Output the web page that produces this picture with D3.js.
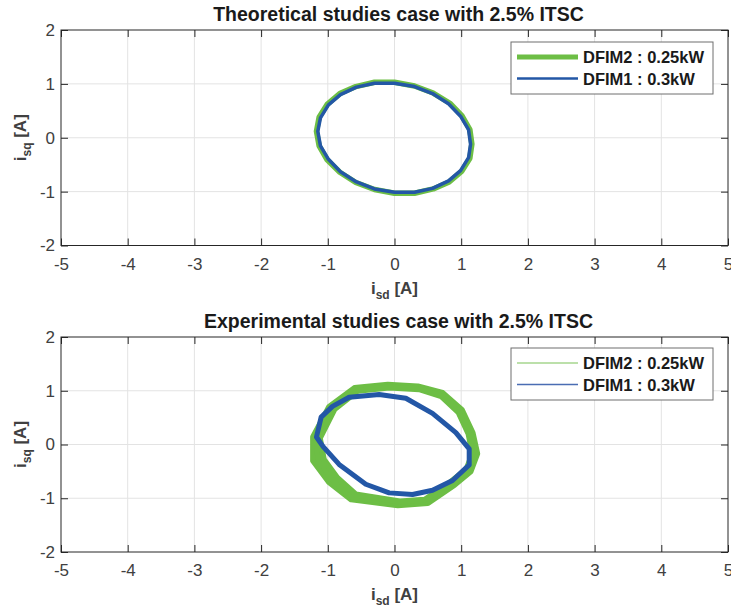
<!DOCTYPE html>
<html>
<head>
<meta charset="UTF-8">
<script src="https://d3js.org/d3.v7.min.js"></script>
<style>
  body { margin: 0; background: #fff; }
  svg { display: block; font-family: "Liberation Sans", Arial, sans-serif; }
  .tick line { stroke: #262626; }
  .tick text { fill: #404040; font-size: 17px; }
  .grid line { stroke: #e3e3e3; stroke-width: 1; }
  .frame { fill: none; stroke: #262626; stroke-width: 1; }
</style>
</head>
<body>
<svg width="731" height="613"></svg>
<script>
// axis ticks
const xTicks = [-5, -4, -3, -2, -1, 0, 1, 2, 3, 4, 5];
const yTicks = [-2, -1, 0, 1, 2];

// theoretical case : (isd, isq) points
const thGreen = [
  [1.16,-0.12],[1.13,0.15],[1.01,0.41],[0.83,0.64],[0.58,0.83],[0.30,0.96],
  [0.0,1.03],[-0.30,1.03],[-0.58,0.95],[-0.82,0.82],[-1.01,0.62],[-1.13,0.38],
  [-1.17,0.12],[-1.13,-0.15],[-1.01,-0.41],[-0.82,-0.64],[-0.58,-0.83],[-0.30,-0.96],
  [0.0,-1.03],[0.30,-1.03],[0.58,-0.95],[0.82,-0.82],[1.01,-0.62],[1.13,-0.38]
];
const thBlue = [
  [1.14,-0.12],[1.11,0.15],[0.99,0.40],[0.81,0.63],[0.57,0.82],[0.30,0.95],
  [0.0,1.01],[-0.30,1.01],[-0.57,0.94],[-0.81,0.80],[-0.99,0.61],[-1.11,0.37],
  [-1.15,0.12],[-1.11,-0.15],[-0.99,-0.40],[-0.81,-0.63],[-0.57,-0.82],[-0.30,-0.95],
  [0.0,-1.01],[0.30,-1.01],[0.57,-0.94],[0.81,-0.80],[0.99,-0.61],[1.11,-0.37]
];

// experimental case : three green cycles (outer / middle / inner of the band) and blue
const expGreenA = [
  [-0.10,1.11],[0.35,1.08],[0.72,0.96],[1.01,0.64],[1.17,0.22],[1.24,-0.17],
  [1.14,-0.50],[0.90,-0.75],[0.50,-1.09],[0.05,-1.13],[-0.65,-1.02],[-0.98,-0.70],
  [-1.22,-0.30],[-1.22,0.14],[-0.98,0.70],[-0.60,1.05]
];
const expGreenC = [
  [-0.09,1.09],[0.36,1.06],[0.71,0.93],[0.99,0.62],[1.14,0.21],[1.21,-0.17],
  [1.11,-0.48],[0.87,-0.73],[0.47,-1.06],[0.06,-1.10],[-0.62,-0.98],[-0.92,-0.66],
  [-1.14,-0.29],[-1.17,0.13],[-0.94,0.68],[-0.58,1.03]
];
const expGreenB = [
  [-0.08,1.06],[0.37,1.03],[0.70,0.90],[0.96,0.60],[1.11,0.20],[1.17,-0.17],
  [1.08,-0.46],[0.84,-0.70],[0.45,-1.03],[0.08,-1.06],[-0.58,-0.93],[-0.86,-0.62],
  [-1.06,-0.28],[-1.12,0.12],[-0.90,0.66],[-0.55,1.00]
];
const expBlue = [
  [-1.17,0.14],[-1.10,0.51],[-0.93,0.71],[-0.68,0.88],[-0.23,0.93],[0.17,0.86],
  [0.57,0.58],[0.92,0.22],[1.12,-0.08],[1.12,-0.38],[0.87,-0.67],[0.57,-0.85],
  [0.27,-0.93],[-0.08,-0.90],[-0.43,-0.74],[-0.83,-0.37],[-1.07,-0.04]
];

const legendNames = ["DFIM2 : 0.25kW", "DFIM1 : 0.3kW"];

const GREEN = "#6dbe45", BLUE = "#2357a6";

const svg = d3.select("svg");
const left = 61, right = 728;

const panels = [
  {
    top: 30, bottom: 245.5, title: "Theoretical studies case with 2.5% ITSC", id: "c1",
    series: [
      { data: thGreen, color: GREEN, width: 5.5 },
      { data: thBlue, color: BLUE, width: 3.5 }
    ],
    legend: [
      { color: GREEN, width: 5 },
      { color: BLUE, width: 2.5 }
    ],
    legendTop: 42
  },
  {
    top: 337, bottom: 552, title: "Experimental studies case with 2.5% ITSC", id: "c2",
    series: [
      { data: expGreenA, color: GREEN, width: 6 },
      { data: expGreenC, color: GREEN, width: 6 },
      { data: expGreenB, color: GREEN, width: 6 },
      { data: expBlue, color: BLUE, width: 5 }
    ],
    legend: [
      { color: "#a6d68e", width: 1.5 },
      { color: "#4a6db3", width: 1.5 }
    ],
    legendTop: 348
  }
];

panels.forEach(p => {
  const x = d3.scaleLinear().domain([-5, 5]).range([left, right]);
  const y = d3.scaleLinear().domain([-2, 2]).range([p.bottom, p.top]);
  const g = svg.append("g");

  g.append("clipPath").attr("id", p.id)
    .append("rect").attr("x", left).attr("y", p.top)
    .attr("width", right - left).attr("height", p.bottom - p.top);

  // grid
  const grid = g.append("g").attr("class", "grid");
  grid.selectAll(".gx").data(xTicks.slice(1, -1)).join("line")
    .attr("x1", d => x(d)).attr("x2", d => x(d))
    .attr("y1", p.top).attr("y2", p.bottom);
  grid.selectAll(".gy").data(yTicks.slice(1, -1)).join("line")
    .attr("x1", left).attr("x2", right)
    .attr("y1", d => y(d)).attr("y2", d => y(d));

  // curves
  const line = d3.line().x(d => x(d[0])).y(d => y(d[1])).curve(d3.curveLinearClosed);
  const plot = g.append("g").attr("clip-path", `url(#${p.id})`);
  p.series.forEach(s => {
    plot.append("path").attr("d", line(s.data))
      .attr("fill", "none").attr("stroke", s.color)
      .attr("stroke-width", s.width).attr("stroke-linejoin", "round");
  });

  // axes (ticks inward)
  g.append("g").attr("transform", `translate(0,${p.bottom})`)
    .call(d3.axisBottom(x).tickValues(xTicks).tickSize(-7).tickPadding(12)
      .tickFormat(d => d < 0 ? "-" + Math.abs(d) : d))
    .call(a => a.select(".domain").remove());
  g.append("g").attr("transform", `translate(0,${p.top})`)
    .call(d3.axisTop(x).tickValues(xTicks).tickSize(-7).tickFormat(""))
    .call(a => a.select(".domain").remove());
  g.append("g").attr("transform", `translate(${left},0)`)
    .call(d3.axisLeft(y).tickValues(yTicks).tickSize(-7).tickPadding(6)
      .tickFormat(d => d < 0 ? "-" + Math.abs(d) : d))
    .call(a => a.select(".domain").remove());
  g.append("g").attr("transform", `translate(${right},0)`)
    .call(d3.axisRight(y).tickValues(yTicks).tickSize(-7).tickFormat(""))
    .call(a => a.select(".domain").remove());
  g.selectAll(".tick text").attr("font-family", null).attr("font-size", null);

  g.append("rect").attr("class", "frame")
    .attr("x", left).attr("y", p.top)
    .attr("width", right - left).attr("height", p.bottom - p.top);

  // title
  g.append("text").attr("x", (left + right) / 2 + 4).attr("y", p.top - 9)
    .attr("text-anchor", "middle").attr("font-weight", "bold")
    .attr("font-size", 19.5).attr("fill", "#1a1a1a").text(p.title);

  // x label
  const xl = g.append("text").attr("x", (left + right) / 2).attr("y", p.bottom + 48)
    .attr("text-anchor", "middle").attr("font-weight", "bold")
    .attr("font-size", 17).attr("fill", "#404040");
  xl.append("tspan").text("i");
  xl.append("tspan").attr("dy", 5).attr("font-size", 12).text("sd");
  xl.append("tspan").attr("dy", -5).text(" [A]");

  // y label
  const yl = g.append("text")
    .attr("transform", `translate(26,${(p.top + p.bottom) / 2}) rotate(-90)`)
    .attr("text-anchor", "middle").attr("font-weight", "bold")
    .attr("font-size", 17).attr("fill", "#404040");
  yl.append("tspan").text("i");
  yl.append("tspan").attr("dy", 5).attr("font-size", 12).text("sq");
  yl.append("tspan").attr("dy", -5).text(" [A]");

  // legend
  const lg = g.append("g").attr("transform", `translate(511,${p.legendTop})`);
  lg.append("rect").attr("width", 202).attr("height", 52)
    .attr("fill", "#fff").attr("stroke", "#6e6e6e").attr("stroke-width", 1);
  p.legend.forEach((l, i) => {
    const cy = 15 + i * 21.5;
    lg.append("line").attr("x1", 6).attr("x2", 67).attr("y1", cy).attr("y2", cy)
      .attr("stroke", l.color).attr("stroke-width", l.width);
    lg.append("text").attr("x", 72).attr("y", cy + 6)
      .attr("font-weight", "bold").attr("font-size", 16.5).attr("fill", "#1a1a1a")
      .text(legendNames[i]);
  });
});
</script>
</body>
</html>
